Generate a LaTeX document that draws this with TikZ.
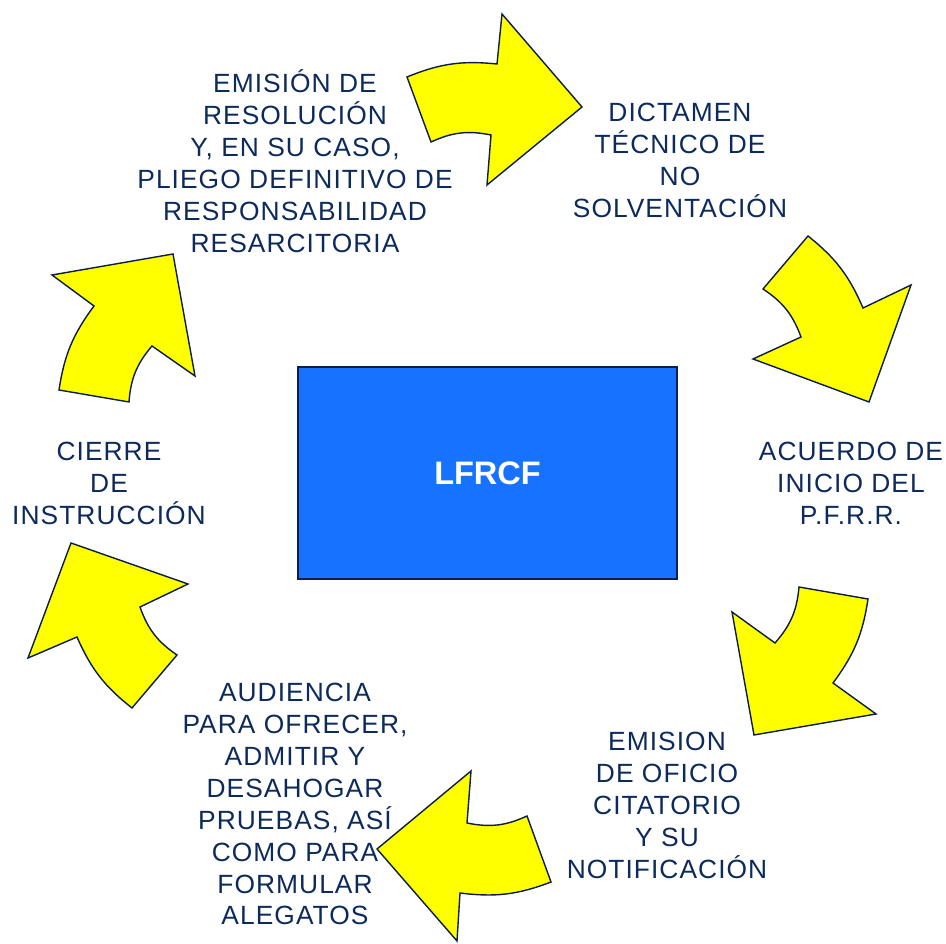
\documentclass[tikz,border=0pt]{standalone}
\usepackage{fontspec}
\setmainfont{Liberation Sans}
\newfontfamily\pasofont{Liberation Sans}[LetterSpace=4]
\usepackage{tikz}
\usetikzlibrary{calc,
	positioning
}
\definecolor{tinta}{HTML}{0D2A5C}
\definecolor{borde}{HTML}{0A1E4A}
\definecolor{amarillo}{HTML}{FFFF00}
\definecolor{azulcaja}{HTML}{1672FF}
\tikzset{Ciclo/.style = {
		x=0.02cm, y=0.02cm,
		flecha/.style = {draw=borde, line width=0.8pt, fill=amarillo, line join=miter},
		paso/.style = {align=center, text=tinta, inner sep=0pt,
			font=\pasofont\fontsize{15}{18.2}\selectfont},
		caja/.style = {draw=borde, line width=0.8pt, fill=azulcaja, text=white,
			minimum width=7.58cm, minimum height=4.24cm,
			font=\bfseries\fontsize{18.5}{22}\selectfont},
		exterior/.style = {bend left=14},
		interior/.style = {bend right=18}
	}% end of Ciclo style
}

\begin{document}
\begin{tikzpicture}[Ciclo] % {{{-3
  \useasboundingbox (0,0) rectangle (946,943);

  \node[caja] (LFRCF) at (487.5,470) {LFRCF};

  \node[paso] (Resol) at (295,782) {EMISIÓN DE\\RESOLUCIÓN\\Y, EN SU CASO,\\PLIEGO DEFINITIVO DE\\RESPONSABILIDAD\\RESARCITORIA};
  \node[paso] (Dictamen) at (680,783) {DICTAMEN\\TÉCNICO DE\\NO\\SOLVENTACIÓN};
  \node[paso] (Acuerdo) at (851,460) {ACUERDO DE\\INICIO DEL\\P.F.R.R.};
  \node[paso] (Oficio) at (667,138) {EMISION\\DE OFICIO\\CITATORIO\\Y SU\\NOTIFICACIÓN};
  \node[paso] (Audiencia) at (295,139) {AUDIENCIA\\PARA OFRECER,\\ADMITIR Y\\DESAHOGAR\\PRUEBAS, ASÍ\\COMO PARA\\FORMULAR\\ALEGATOS};
  \node[paso] (Cierre) at (109,460) {CIERRE\\DE\\INSTRUCCIÓN};

  % flechas del ciclo
  \draw[flecha] (407,866) to[exterior] (497,879) -- (502,929) -- (582,836)
   -- (487,758) -- (491,808) to[interior] (431,801) -- cycle;
  \draw[flecha] (808,707) to[exterior] (863,635) -- (911,658) -- (869,541)
   -- (753,584) -- (801,606) to[interior] (763,654) -- cycle;
  \draw[flecha] (868,344) to[exterior] (833,260) -- (876,229) -- (754,208)
   -- (732,331) -- (775,300) to[interior] (799,356) -- cycle;
  \draw[flecha] (551,61) to[exterior] (460,50) -- (457,2) -- (377,94)
   -- (471,172) -- (467,120) to[interior] (527,127) -- cycle;
  \draw[flecha] (132,235) to[exterior] (77,306) -- (28,285) -- (71,400)
   -- (188,359) -- (140,336) to[interior] (177,288) -- cycle;
  \draw[flecha] (59,553) to[exterior] (94,637) -- (52,668) -- (173,689)
   -- (195,567) -- (152,597) to[interior] (129,541) -- cycle;
 \end{tikzpicture}
\end{document}
